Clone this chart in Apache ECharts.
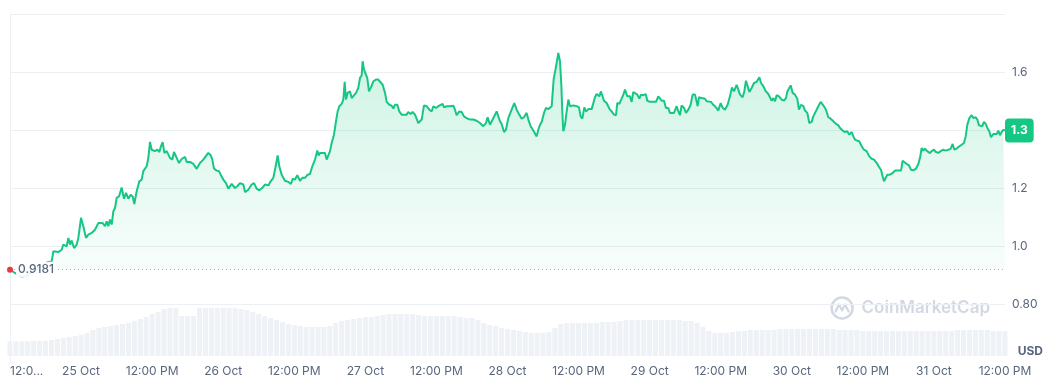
<!DOCTYPE html>
<html>
<head>
<meta charset="utf-8">
<script src="https://cdn.jsdelivr.net/npm/echarts@6/dist/echarts.min.js"></script>
<style>
  html, body { margin: 0; padding: 0; background: #ffffff; }
  #chart { width: 1053px; height: 379px; }
</style>
</head>
<body>
<div id="chart"></div>
<script>
// Hours since 24 Oct 12:00 PM, and price (USD) at that moment
const priceHours = [
  0, 0.84, 2.03, 3.04, 4.22, 5.40, 6.42, 7.04, 7.32, 7.60, 8.16, 8.72, 9.00, 9.57, 9.85, 10.13, 10.41, 10.81, 11.26, 11.54,
  11.82, 11.99, 12.38, 12.83, 13.23, 13.79, 14.35, 14.91, 15.20, 15.65, 16.04, 16.32, 16.60, 16.88, 17.17, 17.45, 17.73, 18.01,
  18.40, 18.85, 19.25, 19.59, 19.98, 20.37, 20.71, 20.99, 21.39, 21.84, 22.23, 22.51, 23.08, 23.36, 23.64, 23.92, 24.20, 24.48,
  24.88, 25.21, 25.50, 25.78, 26.06, 26.45, 26.73, 27.01, 27.41, 27.69, 28.14, 28.53, 28.98, 29.27, 29.55, 29.83, 30.39, 30.95,
  31.52, 32.08, 32.64,
  33.04, 33.49, 33.88, 34.16, 34.44, 34.89, 35.29, 35.57, 36.02, 36.47, 36.86, 37.43, 37.99, 38.38, 38.83, 39.40, 39.68, 40.24,
  40.80, 41.20, 41.65, 42.10, 42.66, 43.05, 43.62, 44.01, 44.46, 44.80, 45.19, 45.47, 45.87, 46.43, 46.99, 47.44, 47.73, 48.12,
  48.51, 48.96, 49.36, 49.81, 50.26, 50.65, 51.05, 51.50, 51.89, 52.12, 52.34, 52.79, 53.18, 53.47, 53.75, 54.03, 54.31, 54.70,
  55.04, 55.32, 55.60, 56.00, 56.28, 56.51, 56.73, 57.01, 57.41, 57.69, 57.97, 58.42, 58.81, 59.09, 59.38, 59.54, 59.77, 59.99,
  60.33, 60.61, 60.95, 61.35, 61.80, 62.19, 62.47, 62.92, 63.32, 63.60, 64.05, 64.44, 64.72, 65.00, 65.40, 65.73, 66.13,
  66.41, 66.97, 67.25, 67.65, 67.99, 68.38, 68.66, 68.94, 69.22, 69.51, 69.90, 70.35, 70.80, 71.19, 71.48, 71.93, 72.32, 72.60,
  73.05, 73.28, 73.73, 74.29, 74.85, 75.13, 75.42, 75.87, 76.26, 76.65, 77.10, 77.67, 78.23, 78.79, 79.35, 79.92, 80.37, 80.65,
  81.04, 81.49, 82.17, 82.73, 83.01, 83.41, 83.74, 84.14, 84.42, 84.70, 85.15, 85.55, 85.83, 86.11, 86.39, 86.78, 87.23, 87.52,
  87.91, 88.36, 88.64, 88.92, 89.20, 89.49, 89.77, 90.16, 90.50, 90.89, 91.17, 91.46, 91.62, 91.79, 92.02, 92.30, 92.58, 92.86,
  93.09, 93.25, 93.42, 93.71, 93.99, 94.27, 94.55, 94.83, 95.11, 95.68, 96.07, 96.35, 96.63, 96.97, 97.25, 97.65, 97.93, 98.21,
  98.49, 98.77, 99.05, 99.50, 99.79,
  100.07, 100.29, 100.74, 101.19, 101.58, 101.98, 102.32, 102.54, 102.88, 103.27, 103.56, 103.84, 104.23, 104.68, 104.96, 105.24,
  105.53, 105.92, 106.26, 106.54, 106.93, 107.33, 107.61, 108.06, 108.62, 109.07, 109.46, 109.75, 110.03, 110.42, 110.76, 111.15,
  111.43, 111.72, 112.11, 112.56, 112.84, 113.12, 113.40, 113.80, 114.14, 114.53, 114.92, 115.26, 115.66, 115.94, 116.11, 116.33,
  116.78, 117.34, 117.63, 117.91, 118.36, 118.75, 119.20, 119.60, 119.99, 120.33, 120.72, 121.17, 121.56, 121.90, 122.24, 122.69,
  122.97, 123.26, 123.70, 123.98, 124.26, 124.55, 124.83, 125.22, 125.62, 126.07, 126.35, 126.52, 126.80, 127.19, 127.64, 128.04,
  128.32, 128.60, 128.88, 129.17, 129.45, 129.84, 130.29, 130.68, 131.02, 131.25, 131.53, 131.81, 132.15, 132.54, 132.93, 133.21,
  133.55,
  133.95, 134.23, 134.62, 134.96, 135.35, 135.63, 135.92, 136.20, 136.48, 136.87, 137.04, 137.32, 137.77, 138.17, 138.56, 139.01,
  139.46, 139.86, 140.14, 140.59, 140.98, 141.37, 141.71, 142.11, 142.39, 142.67, 143.06, 143.40, 143.80, 144.19, 144.64, 145.09,
  145.48, 145.88, 146.21, 146.44, 146.78, 147.06, 147.34, 147.57, 147.91, 148.13, 148.58, 149.03, 149.42, 149.99, 150.44, 150.72,
  151.00, 151.39, 151.79, 152.13, 152.52, 152.97, 153.37, 153.65, 153.93, 154.21, 154.49, 154.77, 155.05, 155.33, 155.61, 156.01,
  156.35, 156.74, 157.14, 157.58, 157.98, 158.43, 158.82, 159.16, 159.44, 159.84, 160.29, 160.68, 161.07, 161.36, 161.64, 161.98,
  162.37, 162.65, 163.05, 163.33, 163.61, 163.89, 164.17, 164.45, 164.74, 165.02, 165.35, 165.63, 166.03, 166.31, 166.59, 166.87,
  167.15, 167.43, 167.71, 168.00
];
const priceValues = [
  0.9181, 0.907, 0.893, 0.900, 0.917, 0.931, 0.945, 0.947, 0.982, 0.987, 0.979, 0.987, 1.005, 0.999, 1.028, 1.005, 1.019, 0.993, 1.005, 1.028,
  1.033, 1.097, 1.068, 1.028, 1.039, 1.045, 1.056, 1.079, 1.074, 1.079, 1.068, 1.085, 1.068, 1.091, 1.074, 1.120, 1.131, 1.166,
  1.171, 1.202, 1.163, 1.183, 1.163, 1.177, 1.171, 1.145, 1.189, 1.223, 1.229, 1.258, 1.275, 1.304, 1.359, 1.332, 1.338, 1.327,
  1.332, 1.324, 1.344, 1.358, 1.321, 1.327, 1.329, 1.304, 1.298, 1.324, 1.304, 1.286, 1.300, 1.294, 1.307, 1.290, 1.290, 1.283,
  1.266, 1.286, 1.298,
  1.309, 1.321, 1.313, 1.298, 1.267, 1.260, 1.258, 1.246, 1.229, 1.217, 1.198, 1.214, 1.200, 1.206, 1.217, 1.212, 1.186, 1.194,
  1.212, 1.217, 1.198, 1.192, 1.202, 1.212, 1.209, 1.223, 1.235, 1.269, 1.312, 1.275, 1.246, 1.225, 1.221, 1.214, 1.232, 1.229,
  1.244, 1.225, 1.235, 1.235, 1.246, 1.248, 1.275, 1.298, 1.329, 1.312, 1.321, 1.321, 1.321, 1.298, 1.294, 1.327, 1.355, 1.384,
  1.430, 1.464, 1.482, 1.490, 1.505, 1.566, 1.505, 1.528, 1.533, 1.510, 1.510, 1.528, 1.545, 1.579, 1.589, 1.637, 1.608, 1.612,
  1.579, 1.533, 1.547, 1.568, 1.574, 1.574, 1.577, 1.556, 1.528, 1.497, 1.487, 1.484, 1.474, 1.487, 1.487, 1.464, 1.453,
  1.455, 1.453, 1.462, 1.455, 1.462, 1.453, 1.459, 1.424, 1.418, 1.436, 1.485, 1.482, 1.470, 1.464, 1.482, 1.476, 1.482, 1.487,
  1.490, 1.478, 1.482, 1.482, 1.484, 1.470, 1.451, 1.464, 1.462, 1.447, 1.441, 1.436, 1.436, 1.432, 1.424, 1.413, 1.424, 1.444,
  1.418, 1.436, 1.464, 1.430, 1.421, 1.393, 1.401, 1.441, 1.439, 1.470, 1.493, 1.470, 1.459, 1.464, 1.439, 1.444, 1.459, 1.436,
  1.413, 1.398, 1.393, 1.378, 1.401, 1.418, 1.428, 1.459, 1.476, 1.472, 1.476, 1.482, 1.487, 1.574, 1.579, 1.631, 1.666, 1.637,
  1.556, 1.464, 1.396, 1.418, 1.464, 1.505, 1.482, 1.482, 1.485, 1.482, 1.478, 1.447, 1.439, 1.478, 1.464, 1.472, 1.474, 1.472,
  1.478, 1.513, 1.524, 1.516, 1.533,
  1.536, 1.501, 1.493, 1.474, 1.464, 1.453, 1.451, 1.493, 1.490, 1.508, 1.522, 1.539, 1.516, 1.516, 1.497, 1.531,
  1.536, 1.522, 1.508, 1.522, 1.520, 1.524, 1.501, 1.497, 1.497, 1.497, 1.516, 1.510, 1.501, 1.501, 1.476, 1.476,
  1.459, 1.458, 1.459, 1.482, 1.464, 1.451, 1.485, 1.476, 1.459, 1.470, 1.487, 1.522, 1.522, 1.520, 1.482, 1.513,
  1.510, 1.508, 1.499, 1.505, 1.497, 1.487, 1.478, 1.467, 1.493, 1.476, 1.470, 1.487, 1.516, 1.547, 1.533, 1.556,
  1.539, 1.522, 1.513, 1.533, 1.570, 1.551, 1.531, 1.545, 1.562, 1.566, 1.568, 1.582, 1.562, 1.551, 1.533, 1.524,
  1.520, 1.501, 1.510, 1.499, 1.520, 1.516, 1.505, 1.501, 1.510, 1.533, 1.543, 1.554, 1.528, 1.522, 1.508, 1.470,
  1.487,
  1.482, 1.467, 1.459, 1.424, 1.428, 1.447, 1.451, 1.470, 1.482, 1.497, 1.501, 1.485, 1.470, 1.444, 1.439, 1.430,
  1.421, 1.416, 1.407, 1.398, 1.393, 1.396, 1.384, 1.393, 1.378, 1.367, 1.363, 1.361, 1.344, 1.332, 1.327, 1.309,
  1.301, 1.298, 1.294, 1.283, 1.271, 1.263, 1.240, 1.223, 1.237, 1.246, 1.246, 1.252, 1.260, 1.260, 1.260, 1.294,
  1.290, 1.283, 1.278, 1.263, 1.261, 1.267, 1.283, 1.304, 1.338, 1.329, 1.336, 1.329, 1.324, 1.320, 1.327, 1.332,
  1.324, 1.321, 1.327, 1.332, 1.329, 1.332, 1.335, 1.352, 1.332, 1.336, 1.344, 1.349, 1.355, 1.378, 1.418, 1.441,
  1.451, 1.441, 1.444, 1.436, 1.416, 1.421, 1.413, 1.428, 1.421, 1.407, 1.396, 1.375, 1.386, 1.384, 1.386, 1.398,
  1.382, 1.393, 1.401, 1.398
];
// Hourly trading volume (relative units), one value per hour from 24 Oct 12:00 PM
const volumeValues = [
  14.5, 14.5, 14.5, 14.5, 15, 15, 15.5, 16, 17, 18, 19, 20, 21, 23, 26, 28, 29, 30, 31, 32,
  33, 35, 37, 39, 42, 44, 47, 48, 48, 40, 40, 40, 48, 48, 48, 48, 48, 48, 48, 47,
  46, 44, 42, 40, 38, 36, 34, 32, 31, 30, 29, 29, 29, 29, 30, 33, 35, 36, 37, 38,
  39, 39, 40, 41, 42, 42, 42, 42, 42, 41, 40, 40, 40, 40, 40, 40, 39, 38, 38, 36,
  33, 31, 30, 28, 27, 26, 25, 24, 23, 23, 23, 24, 28, 32, 33, 33, 33, 33, 33, 33,
  34, 34, 34, 35, 36, 36, 36, 36, 36, 36, 36, 36, 36, 36, 35, 35, 33, 29, 25, 23,
  23, 23, 24, 25, 25, 26, 26, 26, 26, 26, 27, 27, 27, 27, 27, 27, 27, 27, 27, 27,
  26, 26, 26, 26, 25, 25, 25, 25, 25, 25, 25, 25, 25, 25, 25, 25, 25, 25, 25, 25,
  26, 26, 26, 26, 26, 26, 25, 25, 25
];
// x-axis tick labels, one every 12 hours
const xTickLabels = ['12:0...', '25 Oct', '12:00 PM', '26 Oct', '12:00 PM', '27 Oct', '12:00 PM', '28 Oct',
  '12:00 PM', '29 Oct', '12:00 PM', '30 Oct', '12:00 PM', '31 Oct', '12:00 PM'];
const priceTickValues = [0.8, 1.0, 1.2, 1.6];
const currencyLabel = 'USD';

const GREEN = '#16c784';
const RED = '#ea3943';
const TEXT = '#58667e';
const GRIDC = '#eceff3';
const FONT = 'Inter, "Noto Sans", sans-serif';

const pricePoints = priceHours.map((h, i) => [h, priceValues[i]]);
const volumePoints = volumeValues.map((v, i) => [i, v]);
const startPrice = priceValues[0];

const chart = echarts.init(document.getElementById('chart'), null, { renderer: 'canvas' });

const option = {
  animation: false,
  backgroundColor: '#ffffff',
  textStyle: { fontFamily: FONT },
  grid: [
    { left: 10, right: 48, top: 14, bottom: 17 },
    { left: 10, right: 48, top: 256, bottom: 23 }
  ],
  xAxis: [
    {
      type: 'value', gridIndex: 0, min: 0, max: 168, interval: 12,
      axisLine: { show: false }, axisTick: { show: false }, axisLabel: { show: false }, splitLine: { show: false }
    },
    {
      type: 'value', gridIndex: 1, min: 0, max: 168, interval: 12,
      axisLine: { show: false }, axisTick: { show: false }, splitLine: { show: false },
      axisLabel: {
        show: true, color: TEXT, fontSize: 12, fontFamily: FONT, margin: 9,
        showMinLabel: true, showMaxLabel: true, alignMinLabel: 'left',
        formatter: (v) => xTickLabels[Math.round(v / 12)] || ''
      }
    }
  ],
  yAxis: [
    {
      type: 'value', gridIndex: 0, position: 'right', min: 0.6, max: 1.8, interval: 0.2,
      axisLine: { show: true, lineStyle: { color: GRIDC, width: 1 } },
      axisTick: { show: false },
      splitLine: { show: true, lineStyle: { color: ['rgba(0,0,0,0)', GRIDC, GRIDC, GRIDC, GRIDC, GRIDC, GRIDC], width: 1 } },
      axisLabel: {
        color: TEXT, fontSize: 12, fontFamily: FONT, margin: 7,
        formatter: (v) => {
          const hit = priceTickValues.find(t => Math.abs(t - v) < 1e-6);
          if (hit === undefined) return '';
          return hit < 1 ? hit.toFixed(2) : hit.toFixed(1);
        }
      }
    },
    {
      type: 'value', gridIndex: 0, position: 'left', min: 0.6, max: 1.8, interval: 0.2,
      axisLine: { show: true, lineStyle: { color: GRIDC, width: 1 } },
      axisTick: { show: false }, axisLabel: { show: false }, splitLine: { show: false }
    },
    {
      type: 'value', gridIndex: 1, min: 0, max: 100, show: false
    }
  ],
  series: [
    {
      type: 'bar', xAxisIndex: 1, yAxisIndex: 2, data: volumePoints,
      barWidth: 5, itemStyle: { color: '#eef1f5' }, silent: true, z: 1,
      label: { show: false }
    },
    {
      type: 'line', xAxisIndex: 0, yAxisIndex: 0, data: pricePoints,
      showSymbol: false, symbol: 'none', smooth: false, z: 3,
      lineStyle: { width: 2, color: GREEN },
      itemStyle: { color: GREEN },
      areaStyle: {
        origin: startPrice,
        color: {
          type: 'linear', x: 0, y: 0, x2: 0, y2: 1,
          colorStops: [
            { offset: 0, color: 'rgba(22,199,132,0.30)' },
            { offset: 1, color: 'rgba(22,199,132,0.03)' }
          ]
        }
      },
      endLabel: {
        show: true, distance: 0,
        formatter: (p) => (Math.floor(p.value[1] * 10) / 10).toFixed(1),
        backgroundColor: GREEN, color: '#ffffff', fontWeight: 'bold', fontSize: 12, fontFamily: FONT,
        padding: [6, 6, 6, 6], borderRadius: 4
      },
      markLine: {
        silent: true, symbol: ['none', 'none'],
        lineStyle: { color: '#a6b0c3', width: 1, type: [1, 3] },
        label: { show: false },
        data: [{ yAxis: startPrice }]
      },
      markPoint: {
        silent: true,
        symbol: 'circle', symbolSize: 6,
        itemStyle: { color: RED },
        label: {
          show: true, position: 'right', distance: 3,
          formatter: () => String(startPrice),
          color: TEXT, fontSize: 12, fontWeight: 500, fontFamily: FONT,
          backgroundColor: 'rgba(255,255,255,0.9)', padding: [2, 2, 2, 2]
        },
        data: [{ coord: [priceHours[0], startPrice] }]
      }
    }
  ],
  graphic: [
    {
      type: 'group', right: 63, top: 295, silent: true,
      children: [
        { type: 'circle', shape: { cx: 11.5, cy: 11.5, r: 10.5 }, style: { fill: 'none', stroke: '#d3d9e3', lineWidth: 2.5 } },
        { type: 'polyline', shape: { points: [[5, 15], [8.5, 8], [11.5, 14], [14.5, 8], [18, 15]] },
          style: { fill: 'none', stroke: '#d3d9e3', lineWidth: 2.2, lineJoin: 'round', lineCap: 'round' } },
        { type: 'text', x: 31, y: 3, style: { text: 'CoinMarketCap', fill: '#d3d9e3', font: '600 17px ' + FONT } }
      ]
    },
    {
      type: 'text', right: 10, top: 345, silent: true,
      style: { text: currencyLabel, fill: TEXT, font: 'bold 12px ' + FONT }
    }
  ]
};

chart.setOption(option);
</script>
</body>
</html>
